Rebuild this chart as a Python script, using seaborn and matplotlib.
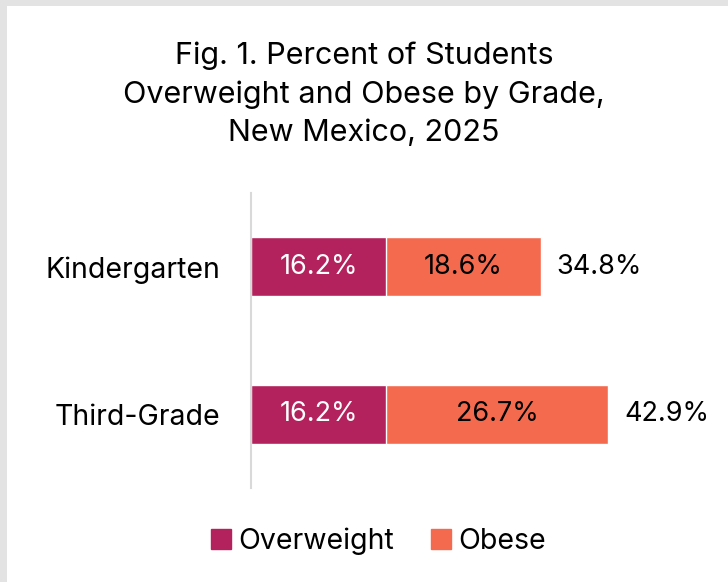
import matplotlib
matplotlib.use("Agg")
import matplotlib.pyplot as plt
from matplotlib.patches import Rectangle
import seaborn as sns
import pandas as pd

# data
grades = ["Kindergarten", "Third-Grade"]
overweight = [16.2, 16.2]
obese = [18.6, 26.7]
total = [34.8, 42.9]

c_over = "#B3225C"
c_obese = "#F46A4E"

sns.set_style("white")
plt.rcParams["font.family"] = ["Inter", "DejaVu Sans"]

df = pd.DataFrame({"grade": grades, "overweight": overweight,
                   "obese": obese, "total": total})

fig = plt.figure(figsize=(7.28, 5.82), dpi=100)
fig.patch.set_facecolor("white")
# grey frame strips on top and left
fig.patches.append(Rectangle((0, 1 - 6 / 582), 1, 6 / 582, transform=fig.transFigure,
                             facecolor="#E3E3E3", edgecolor="none", zorder=-1))
fig.patches.append(Rectangle((0, 0), 7 / 728, 1, transform=fig.transFigure,
                             facecolor="#E3E3E3", edgecolor="none", zorder=-1))

ax = fig.add_axes([251 / 728, 1 - 488 / 582, 458 / 728, 295 / 582])
ax.set_facecolor("none")

# stacked bars: draw the total in the obese colour, then overweight on top
sns.barplot(data=df, x="total", y="grade", color=c_obese, width=0.4,
            saturation=1, ax=ax, orient="h")
sns.barplot(data=df, x="overweight", y="grade", color=c_over, width=0.4,
            saturation=1, ax=ax, orient="h")

for i, g in enumerate(grades):
    ax.text(overweight[i] / 2, i, f"{overweight[i]:.1f}%", ha="center", va="center",
            color="white", fontsize=19.5)
    ax.text(overweight[i] + obese[i] / 2, i, f"{obese[i]:.1f}%", ha="center", va="center",
            color="black", fontsize=19.5)
    ax.text(total[i] + 1.9, i, f"{total[i]:.1f}%", ha="left", va="center",
            color="black", fontsize=19.5)

ax.set_xlim(0, 55)
ax.set_ylim(1.5, -0.5)
ax.set_xlabel("")
ax.set_ylabel("")
ax.set_xticks([])
ax.tick_params(axis="y", length=0, labelsize=20.5, pad=22, labelcolor="black")
for s in ["top", "right", "bottom"]:
    ax.spines[s].set_visible(False)
ax.spines["left"].set_color("#D9D9D9")
ax.spines["left"].set_linewidth(1.5)

fig.text(0.5, 1 - 94 / 582, "Fig. 1. Percent of Students\nOverweight and Obese by Grade,\nNew Mexico, 2025",
         ha="center", va="center", fontsize=22, linespacing=1.45, color="black")

handles = [Rectangle((0, 0), 1, 1, color=c_over), Rectangle((0, 0), 1, 1, color=c_obese)]
fig.legend(handles, ["Overweight", "Obese"], loc="center", bbox_to_anchor=(0.52, 1 - 541 / 582),
           ncol=2, frameon=False, fontsize=20.5, handlelength=0.7, handleheight=0.7,
           handletextpad=0.25, columnspacing=1.3, labelcolor="black")

fig.savefig("out.png", dpi=100, facecolor=fig.get_facecolor())
